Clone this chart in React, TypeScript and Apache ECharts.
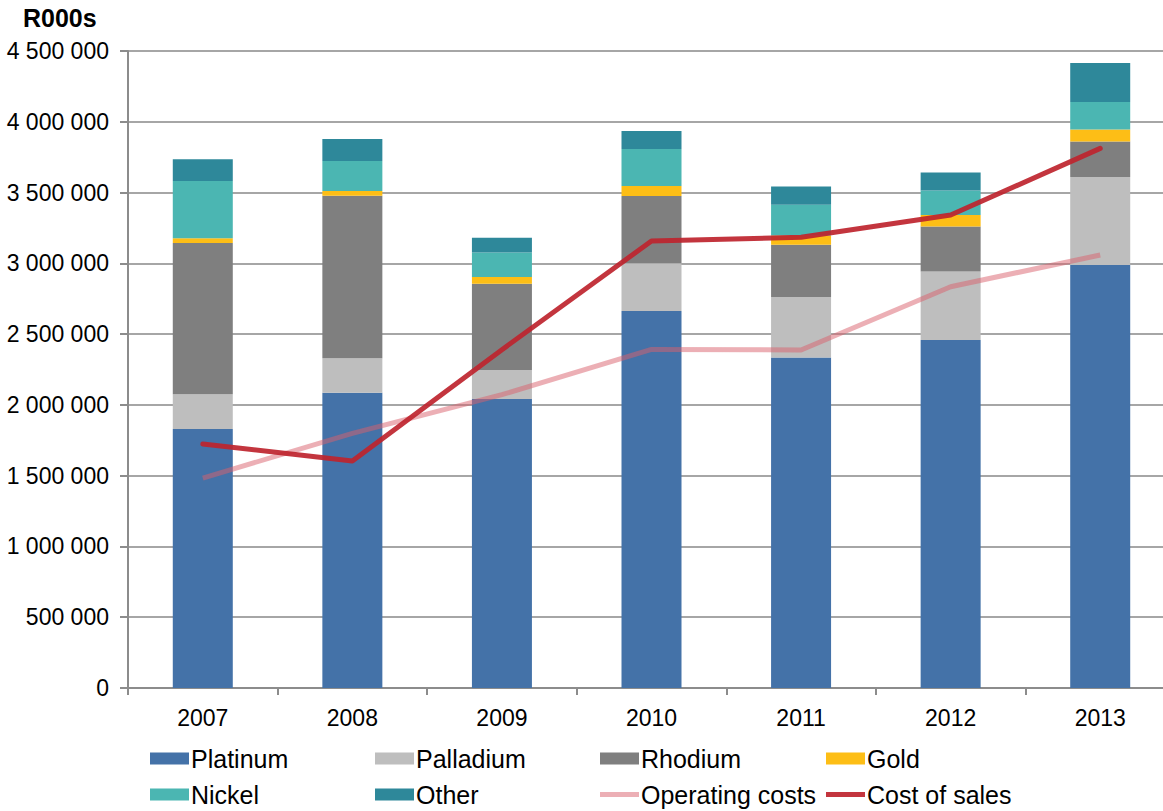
import React, { useEffect, useRef } from "react";
import * as echarts from "echarts";

const years = ["2007", "2008", "2009", "2010", "2011", "2012", "2013"];

// Revenue by metal (R000s)
const platinum = [1830000, 2086000, 2041000, 2663000, 2334000, 2458000, 2988000];
const palladium = [245000, 243000, 205000, 337000, 428000, 485000, 622000];
const rhodium = [1069000, 1149000, 610000, 475000, 370000, 318000, 250000];
const gold = [33000, 33000, 47000, 71000, 64000, 80000, 85000];
const nickel = [405000, 212000, 174000, 261000, 217000, 174000, 195000];
const other = [153000, 155000, 104000, 127000, 129000, 127000, 275000];

// Cost lines (R000s)
const operatingCosts = [1483000, 1799000, 2072000, 2392000, 2388000, 2835000, 3059000];
const costOfSales = [1724000, 1604000, 2390000, 3158000, 3184000, 3341000, 3812000];

const yMax = 4500000;
const yStep = 500000;

const FONT = "'Liberation Sans', Arial, sans-serif";

const fmt = (v: number) =>
  String(Math.round(v)).replace(/\B(?=(\d{3})+(?!\d))/g, " ");

// thin bar used as the legend marker of the line series
const LINE_ICON = "path://M0,0 H40 V5 H0 Z";

export default function App() {
  const ref = useRef<HTMLDivElement>(null);

  useEffect(() => {
    if (!ref.current) return;
    const chart = echarts.init(ref.current, null, { renderer: "svg" });

    const bar = (name: string, data: number[], color: string) => ({
      name,
      type: "bar",
      stack: "revenue",
      barWidth: 60,
      data,
      itemStyle: { color },
      z: 2,
    });

    const opColor = "rgba(218,96,108,0.5)";
    const cosColor = "rgba(190,36,46,0.92)";

    // one legend per entry so the 4 x 2 layout lines up in columns
    const legendItem = (item: any, left: number, row: number) => ({
      orient: "horizontal",
      left,
      top: row === 0 ? 746 : 782,
      itemWidth: 39,
      itemHeight: 12,
      icon: "rect",
      padding: 0,
      textStyle: { fontFamily: FONT, fontSize: 25, color: "#000", lineHeight: 24, padding: [0, 0, 0, -3] },
      data: [item],
    });

    chart.setOption({
      animation: false,
      backgroundColor: "#fff",
      textStyle: { fontFamily: FONT },
      grid: { left: 128, right: 0, top: 51, bottom: 123 },
      graphic: [
        {
          type: "text",
          left: 23,
          top: 5,
          style: { text: "R000s", font: `bold 25px ${FONT}`, fill: "#000" },
        },
      ],
      legend: [
        legendItem("Platinum", 150, 0),
        legendItem("Palladium", 375, 0),
        legendItem("Rhodium", 600, 0),
        legendItem("Gold", 826, 0),
        legendItem("Nickel", 150, 1),
        legendItem("Other", 375, 1),
        legendItem({ name: "Operating costs", icon: LINE_ICON, itemStyle: { color: opColor } }, 600, 1),
        legendItem({ name: "Cost of sales", icon: LINE_ICON, itemStyle: { color: cosColor } }, 826, 1),
      ],
      xAxis: {
        type: "category",
        data: years,
        axisLine: { lineStyle: { color: "#8c8c8c", width: 2 } },
        axisTick: { show: true, length: 7, lineStyle: { color: "#8c8c8c", width: 2 } },
        axisLabel: { color: "#000", fontSize: 23, margin: 18, fontFamily: FONT },
      },
      yAxis: {
        type: "value",
        min: 0,
        max: yMax,
        interval: yStep,
        axisLine: { show: true, lineStyle: { color: "#8c8c8c", width: 2 } },
        axisTick: { show: true, length: 8, lineStyle: { color: "#8c8c8c", width: 2 } },
        splitLine: { lineStyle: { color: "#a6a6a6", width: 2 } },
        axisLabel: { color: "#000", fontSize: 23, margin: 19, fontFamily: FONT, formatter: fmt },
      },
      series: [
        bar("Platinum", platinum, "#4472A8"),
        bar("Palladium", palladium, "#BEBEBE"),
        bar("Rhodium", rhodium, "#7F7F7F"),
        bar("Gold", gold, "#FDBE16"),
        bar("Nickel", nickel, "#4BB6B2"),
        bar("Other", other, "#2E889A"),
        {
          name: "Operating costs",
          type: "line",
          data: operatingCosts,
          symbol: "none",
          z: 5,
          lineStyle: { color: opColor, width: 5 },
          itemStyle: { color: opColor },
        },
        {
          name: "Cost of sales",
          type: "line",
          data: costOfSales,
          symbol: "none",
          z: 6,
          lineStyle: { color: cosColor, width: 5, cap: "round", join: "round" },
          itemStyle: { color: cosColor },
        },
      ],
    });

    return () => chart.dispose();
  }, []);

  return (
    <div
      style={{ position: "fixed", left: 0, top: 0, width: 1163, height: 811, overflow: "hidden", background: "#fff" }}
    >
      <div ref={ref} style={{ width: 1175, height: 811 }} />
    </div>
  );
}
